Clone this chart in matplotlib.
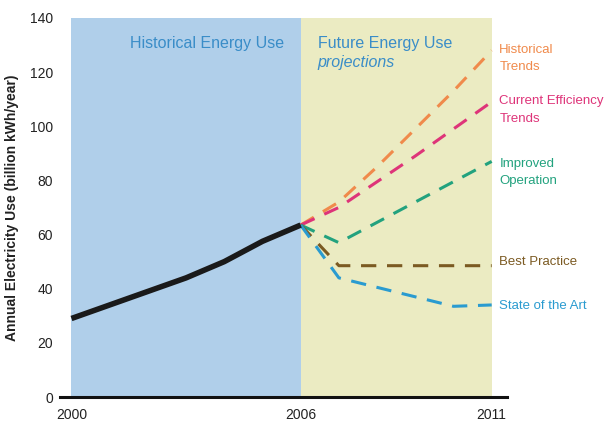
import matplotlib
matplotlib.use("Agg")
import matplotlib.pyplot as plt

plt.rcParams['font.family'] = ['Liberation Sans', 'DejaVu Sans']

# ---- data ----
hist_years = [2000, 2001, 2002, 2003, 2004, 2005, 2006]
hist_use = [29, 34, 39, 44, 50, 57.5, 63.5]

proj_years = [2006, 2007, 2008, 2009, 2010, 2011]
historical_trends = [63.5, 72, 85, 99, 113, 128]
current_efficiency = [63.5, 70, 79.5, 89, 99, 109]
improved_operation = [63.5, 57, 64.5, 72, 79.5, 87]
best_practice = [63.5, 48.5, 48.5, 48.5, 48.5, 48.5]
sota_years = [2006, 2007, 2010, 2011]
state_of_art = [63.5, 44, 33.5, 34]

series_labels = ["Historical\nTrends", "Current Efficiency\nTrends", "Improved\nOperation",
                 "Best Practice", "State of the Art"]
label_y = [125, 106, 83, 50, 33.6]
colors = ['#F08A4B', '#DE3479', '#22A27E', '#7B5A22', '#2A9BD0']

xticks = [2000, 2006, 2011]
yticks = [0, 20, 40, 60, 80, 100, 120, 140]

# ---- figure ----
fig = plt.figure(figsize=(6.16, 4.26), dpi=100)
ax = fig.add_axes([0.0974, 0.068, 0.7256, 0.89])

ax.axvspan(2000, 2006, ymin=0, ymax=1, color='#B0CFEA', lw=0)
ax.axvspan(2006, 2011, ymin=0, ymax=1, color='#EBEBC2', lw=0)

ax.plot(hist_years, hist_use, color='#1a1a1a', lw=4, solid_capstyle='butt', zorder=5)

proj = [historical_trends, current_efficiency, improved_operation, best_practice]
for vals, c in zip(proj, colors[:4]):
    ax.plot(proj_years, vals, color=c, lw=2.2, dashes=(5, 3.5), zorder=4)
ax.plot(sota_years, state_of_art, color=colors[4], lw=2.2, dashes=(5, 3.5), zorder=4)

for lab, yv, c in zip(series_labels, label_y, colors):
    ax.text(2011.2, yv, lab, color=c, fontsize=9.5, va='center', ha='left',
            linespacing=1.6, clip_on=False)

ax.text(2003.55, 130.5, "Historical Energy Use", color='#3A8DC8', fontsize=11.5,
        ha='center', va='center')
ax.text(2006.45, 130.5, "Future Energy Use", color='#3A8DC8', fontsize=11.5,
        ha='left', va='center')
ax.text(2006.45, 123.5, "projections", color='#3A8DC8', fontsize=11.5,
        ha='left', va='center', style='italic')

ax.set_xlim(1999.7, 2011.4)
ax.set_ylim(0, 140)
ax.set_xticks(xticks)
ax.set_yticks(yticks)
ax.tick_params(length=0, labelsize=10, colors='#222222')
ax.tick_params(axis='x', pad=8)
ax.tick_params(axis='y', pad=5)
for s in ['top', 'right', 'left']:
    ax.spines[s].set_visible(False)
ax.spines['bottom'].set_linewidth(2.2)
ax.spines['bottom'].set_color('#111111')

ax.set_ylabel("Annual Electricity Use (billion kWh/year)", fontsize=10,
              color='#222222', fontweight='bold', labelpad=8)

fig.savefig("out.png", dpi=100)
